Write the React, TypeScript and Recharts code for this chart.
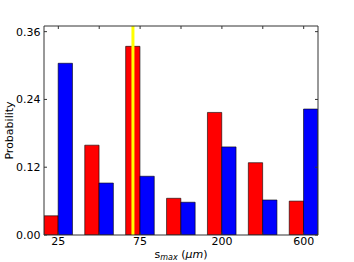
import React from "react";
import { BarChart, Bar, XAxis, YAxis, ReferenceLine } from "recharts";

// bin labels (only every other bin is labelled)
const categories = ["25", "", "75", "", "200", "", "600"];
const redValues = [0.034, 0.159, 0.334, 0.065, 0.217, 0.128, 0.06];
const blueValues = [0.304, 0.092, 0.104, 0.058, 0.156, 0.062, 0.223];
const yTicks = [0, 0.12, 0.24, 0.36];
const xTicks = [0, 1, 2, 3, 4, 5, 6];
// yellow marker, in bin units (middle of the third red bar)
const markerX = 1.825;

const data = categories.map((c, i) => ({
  x: i,
  label: c,
  red: redValues[i],
  blue: blueValues[i],
}));

const FONT = "DejaVu Sans";
const AXIS = "#333";
const xDomain = [-0.35, 6.35];
const yDomain = [0, 0.37];

const renderYLabel = () => (
  <text
    x={9}
    y={130.5}
    transform="rotate(-90, 9, 130.5)"
    textAnchor="middle"
    dominantBaseline="central"
    fontFamily={FONT}
    fontSize={11}
    fill="#000"
  >
    Probability
  </text>
);

const renderXLabel = () => (
  <text x={181} y={258} textAnchor="middle" fontFamily={FONT} fontSize={11} fill="#000">
    s
    <tspan fontSize={8} fontStyle="italic" dy={2}>
      max
    </tspan>
    <tspan dy={-2}> (</tspan>
    <tspan fontStyle="italic">μm</tspan>)
  </text>
);

export default function App() {
  return (
    <div style={{ position: "absolute", left: 0, top: 0, background: "#fff" }}>
      <BarChart
        width={354}
        height={262}
        data={data}
        barSize={14.3}
        barGap={0}
        margin={{ top: 25, right: 35, bottom: 0, left: 14 }}
      >
        <XAxis
          dataKey="x"
          type="number"
          domain={xDomain}
          ticks={xTicks}
          allowDataOverflow
          tickFormatter={(v: number) => categories[v] ?? ""}
          height={27}
          tickSize={-3}
          tickMargin={5}
          stroke={AXIS}
          tick={{ fill: "#000", fontSize: 11, fontFamily: FONT }}
          label={renderXLabel}
        />
        <XAxis
          xAxisId="top"
          dataKey="x"
          type="number"
          orientation="top"
          domain={xDomain}
          ticks={xTicks}
          allowDataOverflow
          height={1}
          tickSize={-3}
          tickFormatter={() => ""}
          stroke={AXIS}
        />
        <YAxis
          domain={yDomain}
          ticks={yTicks}
          allowDataOverflow
          width={30}
          tickSize={-3}
          tickMargin={6.5}
          tickFormatter={(v: number) => v.toFixed(2)}
          stroke={AXIS}
          tick={{ fill: "#000", fontSize: 11, fontFamily: FONT }}
          label={renderYLabel}
        />
        <YAxis
          yAxisId="right"
          orientation="right"
          domain={yDomain}
          ticks={yTicks}
          allowDataOverflow
          width={1}
          tickSize={-3}
          tickFormatter={() => ""}
          stroke={AXIS}
        />
        <Bar dataKey="red" fill="#ff0000" stroke="#000" strokeWidth={0.6} isAnimationActive={false} />
        <Bar dataKey="blue" fill="#0000ff" stroke="#000" strokeWidth={0.6} isAnimationActive={false} />
        <ReferenceLine x={markerX} stroke="#ffff00" strokeWidth={3} />
      </BarChart>
    </div>
  );
}
